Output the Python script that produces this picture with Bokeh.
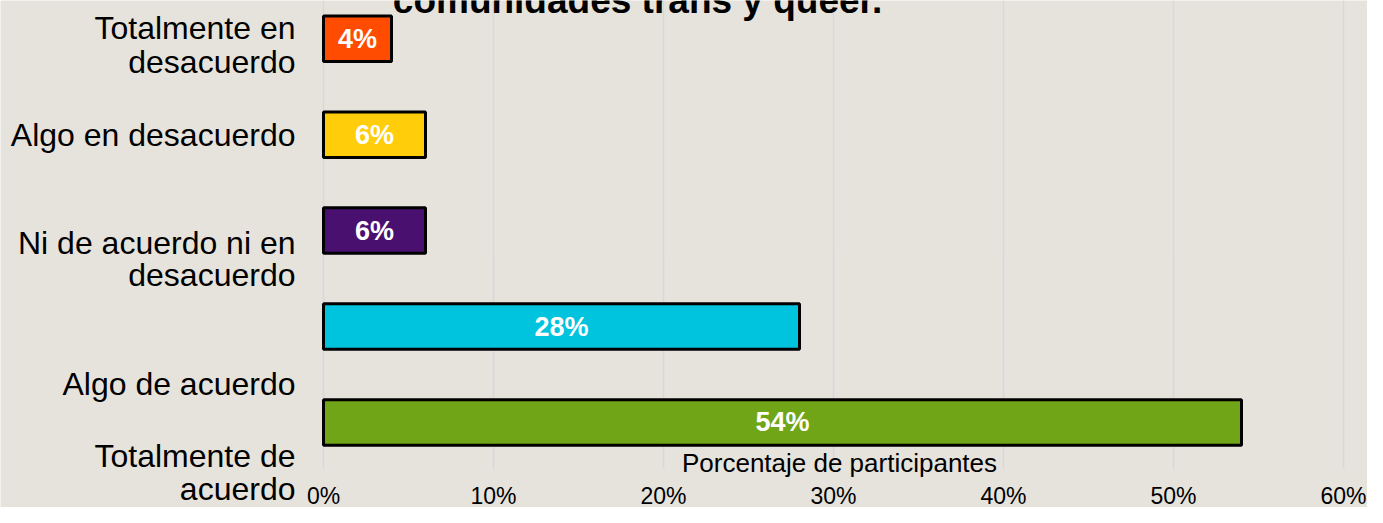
from bokeh.plotting import figure
from bokeh.models import Range1d, FixedTicker, Label, ColumnDataSource
from bokeh.core.properties import value
from bokeh.embed import file_html
from bokeh.resources import INLINE

# ---- data ----
categories = ["Totalmente en desacuerdo", "Algo en desacuerdo",
              "Ni de acuerdo ni en desacuerdo", "Algo de acuerdo",
              "Totalmente de acuerdo"]
category_lines = [["Totalmente en", "desacuerdo"], ["Algo en desacuerdo"],
                  ["Ni de acuerdo ni en", "desacuerdo"], ["Algo de acuerdo"],
                  ["Totalmente de", "acuerdo"]]
values = [4, 6, 6, 28, 54]
value_labels = ["4%", "6%", "6%", "28%", "54%"]
colors = ["#FF4C00", "#FFCD0A", "#4A106F", "#00C3DD", "#6FA516"]
tick_values = [0, 10, 20, 30, 40, 50, 60]
tick_labels = ["0%", "10%", "20%", "30%", "40%", "50%", "60%"]
title_text = "comunidades trans y queer."
x_title = "Porcentaje de participantes"

# ---- layout / style (pixels of the canvas) ----
BG = "#E6E3DC"
FONT = "Liberation Sans"
W, H = 1367, 507
ZERO_X, PX_PER_PCT = 323, 17.0     # where 0% sits, px per percent point
ROW0, PITCH = 38.3, 95.9           # px of first row centre, px per row
GRID_BOTTOM = 468                  # px where grid lines stop / axis sits
# vertical middle of each label line, in rows relative to its own category
label_offsets = [[-0.116, 0.238], [0.005], [0.127, 0.460], [0.602],
                 [0.349, 0.690]]


def ydat(px):
    return (px - ROW0) / PITCH


def xdat(px):
    return (px - ZERO_X) / PX_PER_PCT


p = figure(width=W, height=H, output_backend="svg", toolbar_location=None,
           x_range=Range1d(xdat(0), xdat(W)), y_range=Range1d(ydat(H), ydat(0)),
           y_axis_location=None, title=None, min_border=0)
p.background_fill_color = BG
p.border_fill_color = BG
p.outline_line_color = None

# vertical grid lines, stopping above the tick labels
p.ygrid.visible = False
xg = p.xgrid[0]
xg.ticker = FixedTicker(ticks=tick_values)
xg.grid_line_color = "#D6D8DD"
xg.grid_line_width = 1.5
if "cross_bounds" in xg.properties():
    xg.cross_bounds = (ydat(0), ydat(GRID_BOTTOM))
else:
    xg.visible = False
    p.segment(x0=tick_values, x1=tick_values,
              y0=[ydat(0)] * len(tick_values),
              y1=[ydat(GRID_BOTTOM)] * len(tick_values),
              line_color="#D6D8DD", line_width=1.5, level="underlay")

# bars + value labels
idx = list(range(len(categories)))
src = ColumnDataSource(dict(y=idx, right=values, color=colors,
                            mid=[v / 2 for v in values], lab=value_labels))
p.hbar(y="y", left=0, right="right", height=0.474, fill_color="color",
       line_color="black", line_width=3, source=src)
p.text(x="mid", y="y", text="lab", source=src, text_color="white",
       text_font=value(FONT), text_font_style="bold", text_font_size="27px",
       text_align="center", text_baseline="middle")

# x axis drawn at the bottom of the grid
ax = p.xaxis[0]
ax.fixed_location = ydat(GRID_BOTTOM)
ax.ticker = FixedTicker(ticks=tick_values)
ax.major_label_overrides = {t: l for t, l in zip(tick_values, tick_labels)}
ax.axis_line_color = None
ax.major_tick_line_color = None
ax.minor_tick_line_color = None
ax.major_tick_out = 0
ax.minor_tick_out = 0
ax.major_label_text_font = FONT
ax.major_label_text_font_size = "23px"
ax.major_label_text_color = "black"
ax.major_label_standoff = 14

# category labels on the left
lab_y, lab_t = [], []
for i, lines in enumerate(category_lines):
    for j, line in enumerate(lines):
        lab_y.append(i + label_offsets[i][j])
        lab_t.append(line)
p.text(x=[xdat(295)] * len(lab_t), y=lab_y, text=lab_t, text_align="right",
       text_baseline="middle", text_font=value(FONT),
       text_font_size="32px", text_color="black")

# axis title, inside the plot above the tick labels
p.add_layout(Label(x=xdat(839), y=ydat(462.5), text=x_title,
                   text_align="center", text_baseline="middle",
                   text_font=FONT, text_font_size="26px", text_color="black"))

# chart title (partly cut off at the top, as in the original)
p.add_layout(Label(x=xdat(637), y=ydat(0), text=title_text,
                   text_align="center", text_baseline="middle",
                   text_font=FONT, text_font_style="bold",
                   text_font_size="37px", text_color="black"))

open("out.html", "w").write(file_html(p, INLINE))
